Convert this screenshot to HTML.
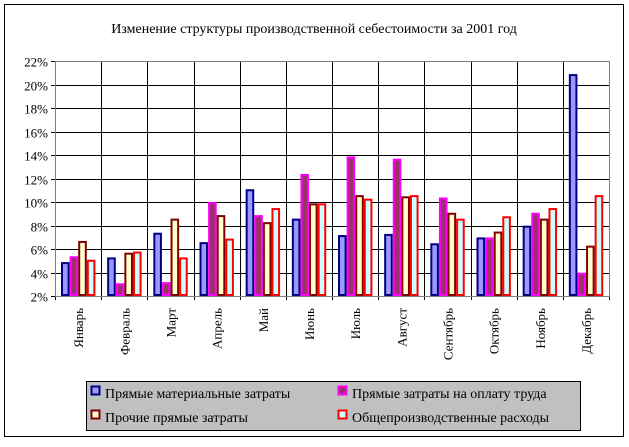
<!DOCTYPE html>
<html><head><meta charset="utf-8"><style>body{margin:0;background:#fff}text{font-family:'Liberation Serif','Times New Roman','DejaVu Serif',serif !important}</style></head><body>
<svg width="629" height="442" xmlns="http://www.w3.org/2000/svg" style="font-family:'Liberation Serif','Times New Roman','DejaVu Serif',serif">
<rect x="0" y="0" width="629" height="442" fill="#fff"/>
<rect x="4.5" y="4.5" width="619" height="432" fill="none" stroke="#000" stroke-width="1"/>
<text x="314" y="33" font-size="14" text-anchor="middle" font-family="'Liberation Serif',serif">Изменение структуры производственной себестоимости за 2001 год</text>
<g id="g"></g>
<rect x="86.5" y="381.5" width="494" height="49" fill="#c0c0c0" stroke="#000"/>
<rect x="91.5" y="386.5" width="8" height="8" fill="#9999ff" stroke="#000080" stroke-width="2"/>
<text x="105" y="398" font-size="14" font-family="'Liberation Serif',serif">Прямые материальные затраты</text>
<rect x="338.5" y="386.5" width="8" height="8" fill="#993366" stroke="#ff00ff" stroke-width="2"/>
<text x="352" y="398" font-size="14" font-family="'Liberation Serif',serif">Прямые затраты на оплату труда</text>
<rect x="91.5" y="410.5" width="8" height="8" fill="#ffffcc" stroke="#800000" stroke-width="2"/>
<text x="105" y="422" font-size="14" font-family="'Liberation Serif',serif">Прочие прямые затраты</text>
<rect x="338.5" y="410.5" width="8" height="8" fill="#ccffff" stroke="#ff0000" stroke-width="2"/>
<text x="352" y="422" font-size="14" font-family="'Liberation Serif',serif">Общепроизводственные расходы</text>
</svg>
<script>
const g=document.getElementById('g');let s='';const F=`font-family="'Liberation Serif',serif"`;
const L=55,R=609,T=61,B=296,w=(R-L)/12,ys=v=>B-(v-2)*11.75;
for(let i=0;i<=10;i++){const y=Math.round(T+i*23.5)+0.5;s+=`<line x1="${L-4}" x2="${R}" y1="${y}" y2="${y}" stroke="#000"/>`;s+=`<text x="${L-7}" y="${y+5}" font-size="13" text-anchor="end" ${F}>${22-2*i}%</text>`;}
for(let i=0;i<=12;i++){const x=Math.round(L+i*w)+0.5;s+=`<line x1="${x}" x2="${x}" y1="${T}" y2="${B+4}" stroke="#000"/>`;}
const d=[[4.8,5.3,6.6,5.0],[5.2,3.0,5.6,5.7],[7.3,3.1,8.5,5.2],[6.5,9.9,8.8,6.8],[11.0,8.8,8.2,9.4],[8.5,12.3,9.8,9.8],[7.1,13.8,10.5,10.2],[7.2,13.6,10.4,10.5],[6.4,10.3,9.0,8.5],[6.9,6.9,7.4,8.7],[7.9,9.0,8.5,9.4],[20.8,3.9,6.2,10.5]];
const fill=['#9999ff','#993366','#ffffcc','#ccffff'],st=['#000080','#ff00ff','#800000','#ff0000'];
const names=['Январь','Февраль','Март','Апрель','Май','Июнь','Июль','Август','Сентябрь','Октябрь','Ноябрь','Декабрь'];
d.forEach((r,i)=>{const x0=L+i*w+6;r.forEach((v,j)=>{const x=x0+j*8.6,y=ys(v);s+=`<rect x="${x+1}" y="${y}" width="6.6" height="${B-y-1}" fill="${fill[j]}" stroke="${st[j]}" stroke-width="2"/>`;});
const cx=L+i*w+w/2+5;s+=`<text transform="translate(${cx},308) rotate(-90)" font-size="13" text-anchor="end" ${F}>${names[i]}</text>`;});
s+=`<line x1="${L+0.5}" x2="${L+0.5}" y1="${T}" y2="${B}" stroke="#000"/><line x1="${L}" x2="${R}" y1="${B+0.5}" y2="${B+0.5}" stroke="#000"/><rect x="${L+0.5}" y="${T+0.5}" width="${R-L}" height="${B-T}" fill="none" stroke="#808080"/>`;
g.innerHTML=s;
</script>
</body></html>
